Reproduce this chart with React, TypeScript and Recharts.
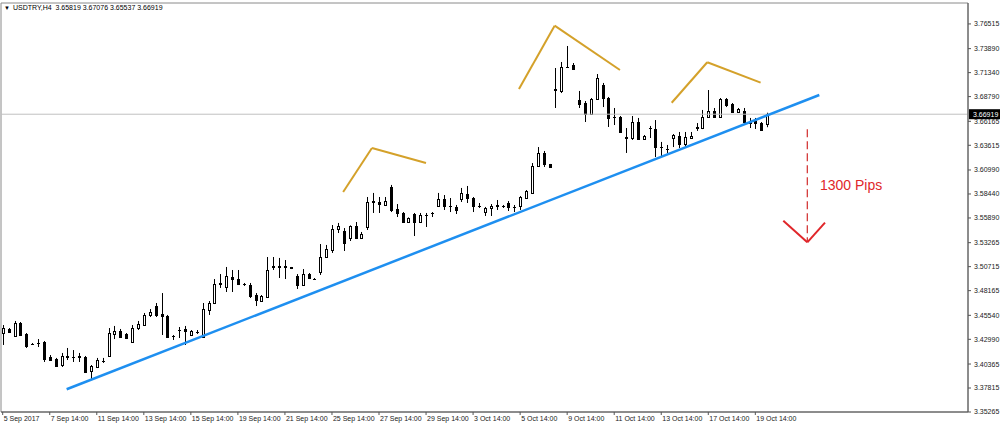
import React from 'react'
import {
  Bar,
  ComposedChart,
  ReferenceArea,
  ReferenceDot,
  ReferenceLine,
  XAxis,
  YAxis,
} from 'recharts'

const title = 'USDTRY,H4  3.65819 3.67076 3.65537 3.66919'

// H4 candles, oldest first
const opens = [
  3.4366, 3.4409, 3.4334, 3.4473, 3.4356, 3.4249, 3.426, 3.427, 3.4111, 3.409,
  3.4026, 3.4111, 3.4111, 3.4111, 3.4111, 3.3962, 3.4005, 3.4069, 3.4122, 3.4356,
  3.4387, 3.4356, 3.427, 3.4419, 3.4451, 3.4558, 3.4653, 3.4568, 3.4547, 3.4334,
  3.4398, 3.4409, 3.4345, 3.4377, 3.4324, 3.4611, 3.4685, 3.4887, 3.4856, 3.4961,
  3.494, 3.4887, 3.4876, 3.477, 3.4706, 3.4749, 3.5079, 3.5068, 3.5079, 3.5068,
  3.4972, 3.4876, 3.4993, 3.494, 3.5014, 3.5174, 3.5249, 3.5472, 3.545, 3.5376,
  3.5504, 3.5376, 3.5493, 3.5759, 3.5759, 3.5727, 3.5918, 3.5684, 3.5642, 3.5546,
  3.5631, 3.5546, 3.5621, 3.5642, 3.5716, 3.5791, 3.5716, 3.5706, 3.5791, 3.5844,
  3.5801, 3.5716, 3.5652, 3.5695, 3.5716, 3.5716, 3.5748, 3.5706, 3.5716, 3.5801,
  3.5855, 3.6141, 3.628, 3.6163, 3.696, 3.6939, 3.7194, 3.7215, 3.6843, 3.6811,
  3.6694, 3.6854, 3.7002, 3.6864, 3.6662, 3.6662, 3.645, 3.6439, 3.6609, 3.6429,
  3.6545, 3.6535, 3.6343, 3.6322, 3.6439, 3.646, 3.6375, 3.6439, 3.6556, 3.6545,
  3.6662, 3.6726, 3.6662, 3.6854, 3.68, 3.6715, 3.6726, 3.6609, 3.662, 3.6598,
  3.65819,
]
const highs = [
  3.4451, 3.4419, 3.4494, 3.4483, 3.4366, 3.426, 3.4302, 3.4281, 3.4132, 3.4101,
  3.4154, 3.4207, 3.4185, 3.4154, 3.4122, 3.4026, 3.4101, 3.4101, 3.4419, 3.4441,
  3.4409, 3.4366, 3.4451, 3.4494, 3.4579, 3.4621, 3.4685, 3.4791, 3.4558, 3.4345,
  3.443, 3.4441, 3.4398, 3.4398, 3.4685, 3.4706, 3.494, 3.4993, 3.5068, 3.5036,
  3.5036, 3.4898, 3.4898, 3.4791, 3.477, 3.5174, 3.5174, 3.5164, 3.5142, 3.5068,
  3.4993, 3.5046, 3.5004, 3.4951, 3.5312, 3.5302, 3.5514, 3.5536, 3.5482, 3.551,
  3.5546, 3.544, 3.5812, 3.5855, 3.5812, 3.5812, 3.594, 3.5737, 3.5652, 3.5595,
  3.5642, 3.5642, 3.5642, 3.5652, 3.5855, 3.5833, 3.5801, 3.5727, 3.5908, 3.5929,
  3.5812, 3.5748, 3.5706, 3.5737, 3.578, 3.5727, 3.5769, 3.5727, 3.5822, 3.5886,
  3.6173, 3.6343, 3.6301, 3.6163, 3.7183, 3.7247, 3.7417, 3.7236, 3.6939, 3.6832,
  3.6864, 3.7119, 3.7024, 3.6875, 3.6758, 3.6673, 3.6545, 3.6673, 3.6652, 3.6471,
  3.6567, 3.663, 3.6397, 3.6365, 3.6481, 3.6503, 3.6503, 3.6503, 3.6598, 3.6737,
  3.6949, 3.6758, 3.6864, 3.6864, 3.6811, 3.6758, 3.6758, 3.6652, 3.6652, 3.6609,
  3.67076,
]
const lows = [
  3.4239, 3.4366, 3.4324, 3.4334, 3.4207, 3.4239, 3.4217, 3.4058, 3.4069, 3.4005,
  3.4005, 3.4079, 3.4058, 3.4058, 3.3941, 3.3867, 3.3994, 3.4048, 3.4111, 3.4302,
  3.4313, 3.4302, 3.426, 3.4398, 3.4441, 3.4536, 3.4536, 3.4345, 3.4313, 3.4292,
  3.4313, 3.4239, 3.4334, 3.4356, 3.4313, 3.4558, 3.4674, 3.4845, 3.4802, 3.4802,
  3.4876, 3.4866, 3.4738, 3.4653, 3.4696, 3.4749, 3.5036, 3.4951, 3.494, 3.5046,
  3.4834, 3.4866, 3.494, 3.493, 3.4983, 3.5164, 3.5217, 3.5429, 3.5238, 3.5344,
  3.5365, 3.5365, 3.5461, 3.5642, 3.5642, 3.5716, 3.5652, 3.5599, 3.5536, 3.5536,
  3.5397, 3.5536, 3.5493, 3.5599, 3.5706, 3.5674, 3.5652, 3.5631, 3.5759, 3.5748,
  3.5652, 3.5695, 3.561, 3.561, 3.5674, 3.5695, 3.5663, 3.5652, 3.5674, 3.5791,
  3.5855, 3.6131, 3.6131, 3.612, 3.6758, 3.6917, 3.7183, 3.7162, 3.6758, 3.6609,
  3.6684, 3.6843, 3.6768, 3.6556, 3.6577, 3.6503, 3.628, 3.6418, 3.6418, 3.6418,
  3.6439, 3.6237, 3.6237, 3.628, 3.6343, 3.6333, 3.6343, 3.6439, 3.6514, 3.6534,
  3.6652, 3.6652, 3.6652, 3.6768, 3.6705, 3.6705, 3.6588, 3.6545, 3.6535, 3.6514,
  3.65537,
]
const closes = [
  3.4419, 3.4377, 3.4473, 3.4345, 3.4228, 3.4249, 3.427, 3.409, 3.4079, 3.4015,
  3.4122, 3.4122, 3.4111, 3.4122, 3.3952, 3.4015, 3.4079, 3.4079, 3.4366, 3.4387,
  3.4324, 3.4313, 3.4419, 3.4462, 3.4558, 3.4589, 3.4558, 3.4547, 3.4324, 3.4324,
  3.4398, 3.4387, 3.4387, 3.4387, 3.4621, 3.4685, 3.4887, 3.4898, 3.4972, 3.494,
  3.4887, 3.4893, 3.4759, 3.4717, 3.4759, 3.5036, 3.5068, 3.5079, 3.5068, 3.5057,
  3.4876, 3.4993, 3.4951, 3.494, 3.5174, 3.5259, 3.5472, 3.5504, 3.5323, 3.5504,
  3.5376, 3.5419, 3.5759, 3.577, 3.5737, 3.577, 3.5674, 3.5642, 3.5546, 3.5589,
  3.5546, 3.5621, 3.5631, 3.5642, 3.5791, 3.5716, 3.5706, 3.5674, 3.5855, 3.5801,
  3.5716, 3.5716, 3.5695, 3.5716, 3.5727, 3.5716, 3.5706, 3.5716, 3.5812, 3.5876,
  3.6141, 3.628, 3.6163, 3.6131, 3.6949, 3.7194, 3.7204, 3.7173, 3.68, 3.6694,
  3.6854, 3.7077, 3.6864, 3.6652, 3.6652, 3.6503, 3.6439, 3.6609, 3.6429, 3.646,
  3.6535, 3.6343, 3.6333, 3.6322, 3.6471, 3.6375, 3.645, 3.646, 3.6545, 3.6662,
  3.6726, 3.6662, 3.6854, 3.679, 3.6715, 3.6747, 3.6609, 3.6598, 3.6598, 3.6524,
  3.66919,
]

// time labels sit on every 8th bar
const timeTickBars = [0, 8, 16, 24, 32, 40, 48, 56, 64, 72, 80, 88, 96, 104, 112, 120, 128]
const timeLabels = [
  '5 Sep 2017', '7 Sep 14:00', '11 Sep 14:00', '13 Sep 14:00', '15 Sep 14:00',
  '19 Sep 14:00', '21 Sep 14:00', '25 Sep 14:00', '27 Sep 14:00', '29 Sep 14:00',
  '3 Oct 14:00', '5 Oct 14:00', '9 Oct 14:00', '11 Oct 14:00', '13 Oct 14:00',
  '17 Oct 14:00', '19 Oct 14:00',
]
const priceTicks = [
  3.35265, 3.37815, 3.40365, 3.4299, 3.4554, 3.48165, 3.50715, 3.53265, 3.5589,
  3.5844, 3.6099, 3.63615, 3.66165, 3.6879, 3.7134, 3.7389, 3.76515,
]
const lastPrice = 3.66919

// drawn objects: [bar, price]
const trendLine = [[10.88, 3.3768], [138.88, 3.6896]]
const leftShoulder = [[57.9, 3.5865], [62.8, 3.6333], [71.99, 3.6173]]
const head = [[87.8, 3.696], [93.87, 3.7633], [104.98, 3.7162]]
const rightShoulder = [[113.78, 3.6814], [119.83, 3.7244], [128.9, 3.7027]]
const targetDrop = [[136.84, 3.6532], [136.84, 3.5337]]
const arrowHead = [[132.76, 3.556], [136.84, 3.533], [139.85, 3.5539]]
const pipsNote = { bar: 138.15, price: 3.594, text: '1300 Pips' }

const X_DOMAIN = [-0.289, 164.17]
const Y_DOMAIN = [3.35265, 3.7874]
const FONT = '"Liberation Sans", Arial, sans-serif'

const candles = opens.map((open, i) => ({
  i,
  open,
  high: highs[i],
  low: lows[i],
  close: closes[i],
}))

function Candle(props: any) {
  const { x, y, width, height, payload } = props
  if (x == null || !payload) return null
  const top = Math.min(y, y + height)
  const h = Math.abs(height)
  const { open, high, low, close } = payload
  const range = high - low
  const toY = (v: number) => (range > 0 ? top + ((high - v) / range) * h : top)
  const c = Math.round(x + width / 2)
  const yo = toY(open)
  const yc = toY(close)
  const bodyTop = Math.min(yo, yc)
  const bodyH = Math.abs(yo - yc)
  return (
    <g>
      <line x1={c + 0.5} x2={c + 0.5} y1={top} y2={top + h} stroke="#000" />
      {bodyH < 1 ? (
        <line x1={c - 1} x2={c + 2} y1={Math.round(yo) + 0.5} y2={Math.round(yo) + 0.5} stroke="#000" />
      ) : (
        <rect
          x={c - 0.5}
          y={Math.round(bodyTop) + 0.5}
          width={2}
          height={Math.max(1, Math.round(bodyH))}
          fill={close > open ? '#fff' : '#000'}
          stroke="#000"
        />
      )}
    </g>
  )
}

function TimeTick(props: any) {
  const { x, y, payload } = props
  const idx = timeTickBars.indexOf(payload.value)
  return (
    <text x={x + 1} y={y} dy="0.71em" textAnchor="start" fontSize={7} fontFamily={FONT} fill="#222">
      {idx >= 0 ? timeLabels[idx] : ''}
    </text>
  )
}

function PriceTag(props: any) {
  const { viewBox } = props
  if (!viewBox) return null
  const left = viewBox.x + viewBox.width + 1
  return (
    <g>
      <rect x={left} y={viewBox.y - 5} width={32} height={10} fill="#000" />
      <text x={left + 4} y={viewBox.y} dy="0.355em" fontSize={7} fontFamily={FONT} fill="#fff">
        {lastPrice.toFixed(5)}
      </text>
    </g>
  )
}

export default function App() {
  const seg = (pts: number[][], color: string, width: number, key: string, dash?: string) =>
    pts.slice(1).map((p, k) => (
      <ReferenceLine
        key={`${key}-${k}`}
        segment={[
          { x: pts[k][0], y: pts[k][1] },
          { x: p[0], y: p[1] },
        ]}
        stroke={color}
        strokeWidth={width}
        strokeDasharray={dash}
        ifOverflow="visible"
      />
    ))

  return (
    <div style={{ position: 'absolute', left: 0, top: 0, width: 1000, height: 429, background: '#fff' }}>
      <ComposedChart
        width={1000}
        height={429}
        data={candles}
        margin={{ top: 3, right: 0, bottom: 0, left: 1 }}
      >
        <ReferenceArea
          x1={X_DOMAIN[0]}
          x2={X_DOMAIN[1]}
          y1={Y_DOMAIN[0]}
          y2={Y_DOMAIN[1]}
          fill="none"
          stroke="#8a8a8a"
          ifOverflow="visible"
        />
        <XAxis
          dataKey="i"
          type="number"
          domain={X_DOMAIN}
          allowDataOverflow
          ticks={timeTickBars}
          interval={0}
          height={17}
          tickSize={3}
          tickMargin={1}
          stroke="#555"
          tick={<TimeTick />}
        />
        <YAxis
          orientation="right"
          type="number"
          domain={Y_DOMAIN}
          allowDataOverflow
          ticks={priceTicks}
          interval={0}
          width={32}
          tickSize={3}
          tickMargin={3}
          stroke="#555"
          tick={{ fontSize: 7, fontFamily: FONT, fill: '#222' }}
          tickFormatter={(v: number) => v.toFixed(5)}
        />
        <ReferenceLine y={lastPrice} stroke="#c0c0c0" strokeWidth={1} label={<PriceTag />} />
        <Bar
          dataKey={(d: any) => [d.low, d.high]}
          barSize={4}
          shape={<Candle />}
          isAnimationActive={false}
        />
        {seg(trendLine, '#1e8ff0', 2.5, 'trend')}
        {seg(leftShoulder, '#d4a12a', 2, 'ls')}
        {seg(head, '#d4a12a', 2, 'hd')}
        {seg(rightShoulder, '#d4a12a', 2, 'rs')}
        {seg(targetDrop, '#d12c2c', 1.2, 'drop', '8 4')}
        {seg(arrowHead, '#e0262a', 2, 'arrow')}
        <ReferenceDot
          x={pipsNote.bar}
          y={pipsNote.price}
          r={0}
          fill="none"
          stroke="none"
          label={{ value: pipsNote.text, position: 'right', offset: 5, fill: '#e0262a', fontSize: 14, fontFamily: FONT }}
        />
      </ComposedChart>
      <div
        style={{
          position: 'absolute',
          left: 4,
          top: 3,
          fontSize: 7,
          fontFamily: FONT,
          color: '#000',
          whiteSpace: 'pre',
          lineHeight: '9px',
        }}
      >
        <span style={{ fontSize: 6, marginRight: 3 }}>▼</span>
        {title}
      </div>
    </div>
  )
}
